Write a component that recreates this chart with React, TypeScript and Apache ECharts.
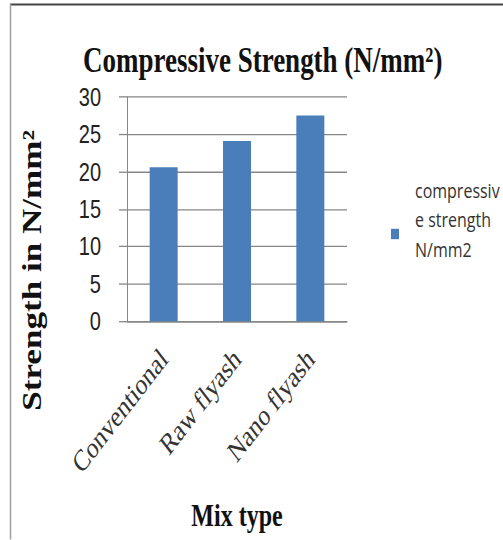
import React, { useEffect, useRef } from "react";
import * as echarts from "echarts";

const categories = ["Conventional", "Raw flyash", "Nano flyash"];
const strengthValues = [20.6, 24.1, 27.5];
const yMin = 0;
const yMax = 30;
const yStep = 5;
const seriesName = "compressive strength N/mm2";
const legendLines = ["compressiv", "e strength", "N/mm2"];
const titleText = "Compressive Strength (N/mm²)";
const yAxisTitle = "Strength in N/mm²";
const xAxisTitle = "Mix type";

const W = 503;
const H = 540;
const K = 1.3; // vertical stretch of the reference picture
const CH = H / K;

export default function App() {
  const ref = useRef<HTMLDivElement>(null);
  useEffect(() => {
    const chart = echarts.init(ref.current!, null, { renderer: "svg" });
    chart.setOption({
      animation: false,
      backgroundColor: "#ffffff",
      title: {
        text: titleText,
        left: 78,
        top: 26.5,
        textStyle: {
          fontFamily: "Liberation Serif",
          fontWeight: "bold",
          fontSize: 27,
          lineHeight: 30,
          color: "#111111",
        },
      },
      grid: { left: 127, right: 156, top: 74.5, bottom: CH - 247.5, containLabel: false },
      legend: {
        orient: "vertical",
        left: 386,
        top: 129,
        icon: "rect",
        itemWidth: 8,
        itemHeight: 8,
        data: [seriesName],
        formatter: () => legendLines.join("\n") + "\n ",
        textStyle: {
          fontFamily: "Open Sans",
          fontSize: 16,
          lineHeight: 23,
          color: "#333333",
          padding: [0, 0, 0, 11],
        },
      },
      xAxis: {
        type: "category",
        data: categories,
        axisLine: { show: true, lineStyle: { color: "#868686", width: 1 } },
        axisTick: { show: false },
        axisLabel: {
          interval: 0,
          rotate: 45,
          margin: 25,
          fontFamily: "Liberation Serif",
          fontSize: 23,
          color: "#333333",
        },
        name: xAxisTitle,
        nameLocation: "middle",
        nameGap: 137,
        nameTextStyle: {
          fontFamily: "Liberation Serif",
          fontWeight: "bold",
          fontSize: 24,
          color: "#111111",
        },
      },
      yAxis: {
        type: "value",
        min: yMin,
        max: yMax,
        interval: yStep,
        axisLine: { show: true, lineStyle: { color: "#868686", width: 1 } },
        axisTick: { show: true, length: 8, lineStyle: { color: "#868686" } },
        splitLine: { show: true, lineStyle: { color: "#868686", width: 1 } },
        axisLabel: {
          margin: 26,
          fontFamily: "Liberation Sans",
          fontSize: 20,
          color: "#222222",
        },
      },
      series: [
        {
          name: seriesName,
          type: "bar",
          data: strengthValues,
          barWidth: 28,
          itemStyle: { color: "#4a7ebb" },
        },
      ],
      graphic: [
        {
          type: "text",
          x: 32,
          y: 208,
          rotation: Math.PI / 2,
          style: {
            text: yAxisTitle,
            font: 'bold 27px "Liberation Serif"',
            fill: "#111111",
            align: "center",
            verticalAlign: "middle",
          },
        },
        {
          type: "line",
          shape: { x1: 10, y1: 3.4, x2: W, y2: 3.4 },
          style: { stroke: "#444444", lineWidth: 1.6 },
        },
        {
          type: "line",
          shape: { x1: 10.5, y1: 3, x2: 10.5, y2: CH },
          style: { stroke: "#a0a0a0", lineWidth: 1.5 },
        },
      ],
    });
    return () => chart.dispose();
  }, []);
  return (
    <div
      style={{
        position: "fixed",
        left: 0,
        top: 0,
        width: W,
        height: H,
        background: "#ffffff",
        overflow: "hidden",
      }}
    >
      <div
        ref={ref}
        style={{ width: W, height: CH, transform: `scaleY(${K})`, transformOrigin: "0 0" }}
      />
    </div>
  );
}
